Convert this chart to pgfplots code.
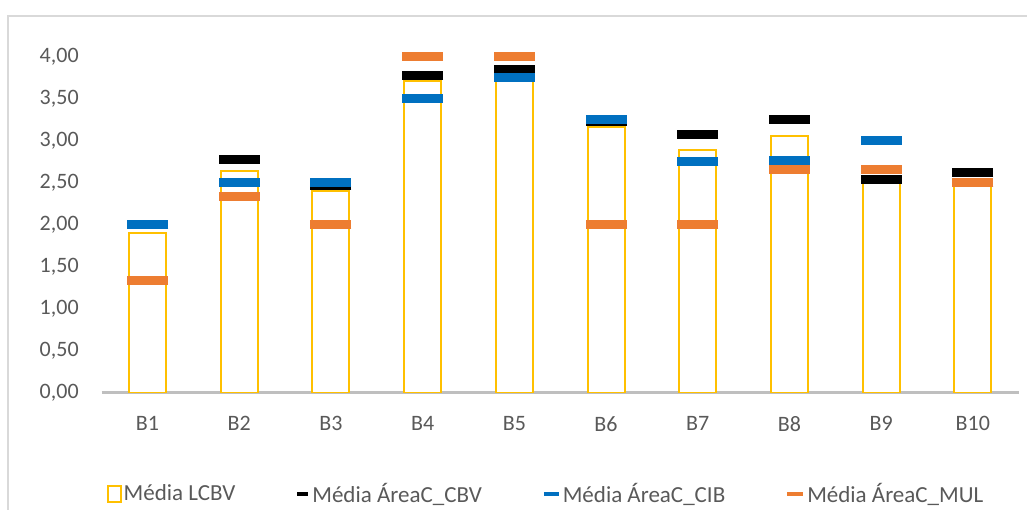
\documentclass[border=0pt]{standalone}
\usepackage{pgfplots}
\pgfplotsset{compat=1.18}
\usepackage{fontspec}
\setmainfont{Carlito}

\definecolor{cYellow}{HTML}{FFC000}
\definecolor{cBlue}{HTML}{0070C0}
\definecolor{cOrange}{HTML}{ED7D31}
\definecolor{cText}{HTML}{595959}
\definecolor{cAxis}{HTML}{BFBFBF}
\definecolor{cFrame}{HTML}{D9D9D9}

\begin{document}
\begin{tikzpicture}[font=\fontsize{11pt}{13pt}\selectfont]
\useasboundingbox (-50.85pt,-58.25pt) rectangle (462.65pt,196.25pt);
\draw[cFrame, line width=1pt] (-46.6pt,-60pt) -- (-46.6pt,188pt) -- (465pt,188pt);
\begin{axis}[
    at={(0,0)}, anchor=south west,
    scale only axis,
    width=458.5pt, height=176.4pt,
    xmin=0.5, xmax=10.5,
    ymin=0, ymax=4.2,
    axis x line*=bottom, axis y line*=left,
    x axis line style={draw=cAxis, line width=1.2pt},
    y axis line style={draw=none},
    xtick={1,...,10},
    xticklabels={B1,B2,B3,B4,B5,B6,B7,B8,B9,B10},
    ytick={0,0.5,...,4},
    major tick length=0pt,
    tick style={draw=none},
    tick label style={font=\fontsize{11pt}{13pt}\selectfont, text=cText},
    xticklabel style={yshift=-8.3pt},
    yticklabel style={anchor=east, xshift=-8pt},
    /pgf/number format/.cd, fixed, fixed zerofill, precision=2, use comma, assume math mode=true,
    /pgfplots/.cd,
    legend columns=4,
    legend style={
        at={(0.4845,-0.2877)}, anchor=center, draw=none, fill=none,
        font=\fontsize{11.5pt}{13pt}\selectfont, text=cText,
        nodes={inner xsep=1pt},
        /tikz/every even column/.append style={column sep=29pt},
        /tikz/every odd column/.append style={column sep=0pt},
    },
]

% Média LCBV (barras)
\addplot[ybar, bar width=18.5pt, draw=cYellow, fill=white, line width=1pt,
    legend image code/.code={\draw[cYellow, fill=white, line width=1pt] (0pt,-4.2pt) rectangle (6.5pt,4.2pt);}]
    coordinates {(1,1.90)(2,2.64)(3,2.40)(4,3.71)(5,3.72)(6,3.16)(7,2.89)(8,3.05)(9,2.49)(10,2.47)};
\addlegendentry{Média LCBV}

% Média ÁreaC_CBV
\addplot[only marks, mark=-, mark size=10.25pt, mark options={draw=black, line width=4.5pt},
    legend image code/.code={\draw[black, line width=2pt] (0pt,0pt) -- (5.5pt,0pt);}]
    coordinates {(1,2.00)(2,2.77)(3,2.46)(4,3.77)(5,3.84)(6,3.23)(7,3.07)(8,3.25)(9,2.53)(10,2.62)};
\addlegendentry{Média ÁreaC\_CBV}

% Média ÁreaC_CIB
\addplot[only marks, mark=-, mark size=10.25pt, mark options={draw=cBlue, line width=4.5pt},
    legend image code/.code={\draw[cBlue, line width=2pt] (0pt,0pt) -- (7.5pt,0pt);}]
    coordinates {(1,2.00)(2,2.50)(3,2.50)(4,3.50)(5,3.75)(6,3.25)(7,2.75)(8,2.76)(9,3.00)(10,2.50)};
\addlegendentry{Média ÁreaC\_CIB}

% Média ÁreaC_MUL
\addplot[only marks, mark=-, mark size=10.25pt, mark options={draw=cOrange, line width=4.5pt},
    legend image code/.code={\draw[cOrange, line width=2pt] (0pt,0pt) -- (8pt,0pt);}]
    coordinates {(1,1.33)(2,2.33)(3,2.00)(4,4.00)(5,4.00)(6,2.00)(7,2.00)(8,2.66)(9,2.66)(10,2.50)};
\addlegendentry{Média ÁreaC\_MUL}

\end{axis}
\end{tikzpicture}
\end{document}
